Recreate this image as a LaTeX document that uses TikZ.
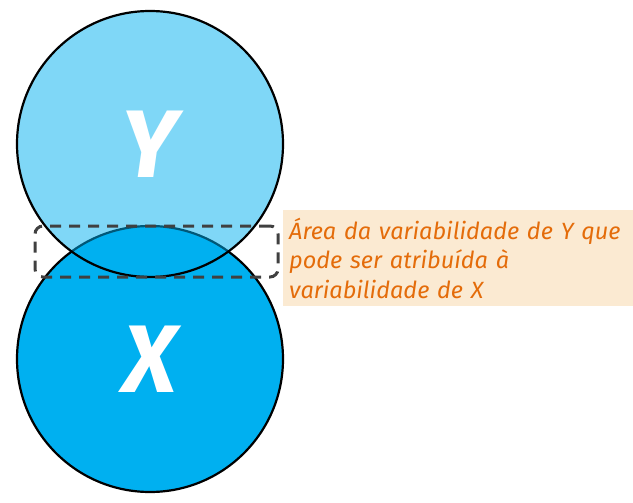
\documentclass[tikz,border=0pt]{standalone}
\usepackage{fontspec}
\setmainfont{Fira Sans}
\usepackage{xcolor}
\usetikzlibrary{positioning}
\definecolor{varblue}{HTML}{00B0F0}
\definecolor{noteorange}{HTML}{E46C0A}
\definecolor{notebg}{HTML}{FBEAD2}
\definecolor{dashgray}{HTML}{404040}

\begin{document}
\begin{tikzpicture}[
    x=1pt, y=-1pt,
    circ/.style={circle, draw=black, line width=2.2pt, minimum size=266pt, inner sep=0pt, text=white, font=\fontsize{96}{96}\selectfont\bfseries\itshape},
    dashbox/.style={rectangle, draw=dashgray, line width=3pt, dash pattern=on 11pt off 8pt, rounded corners=8pt, minimum width=243pt, minimum height=51pt},
    note/.style={rectangle, fill=notebg, text=noteorange, align=left, text width=338pt, minimum width=350pt, minimum height=96pt, inner sep=6pt, font=\fontsize{23.5}{29.5}\selectfont\itshape}
]
\useasboundingbox (0,0) rectangle (633,503);

% Variables
\node[circ, fill=varblue] (x) at (150,359) {X};
\node[circ, fill=varblue, fill opacity=0.5, text opacity=1] (y) at (150,144) {Y};

% Shared area
\node[dashbox] (shared) at (156.5,251.5) {};

% Note
\node[note, anchor=north west] (note) at (283,210) {Área da variabilidade de Y que\\pode ser atribuída à\\variabilidade de X};

\end{tikzpicture}
\end{document}
